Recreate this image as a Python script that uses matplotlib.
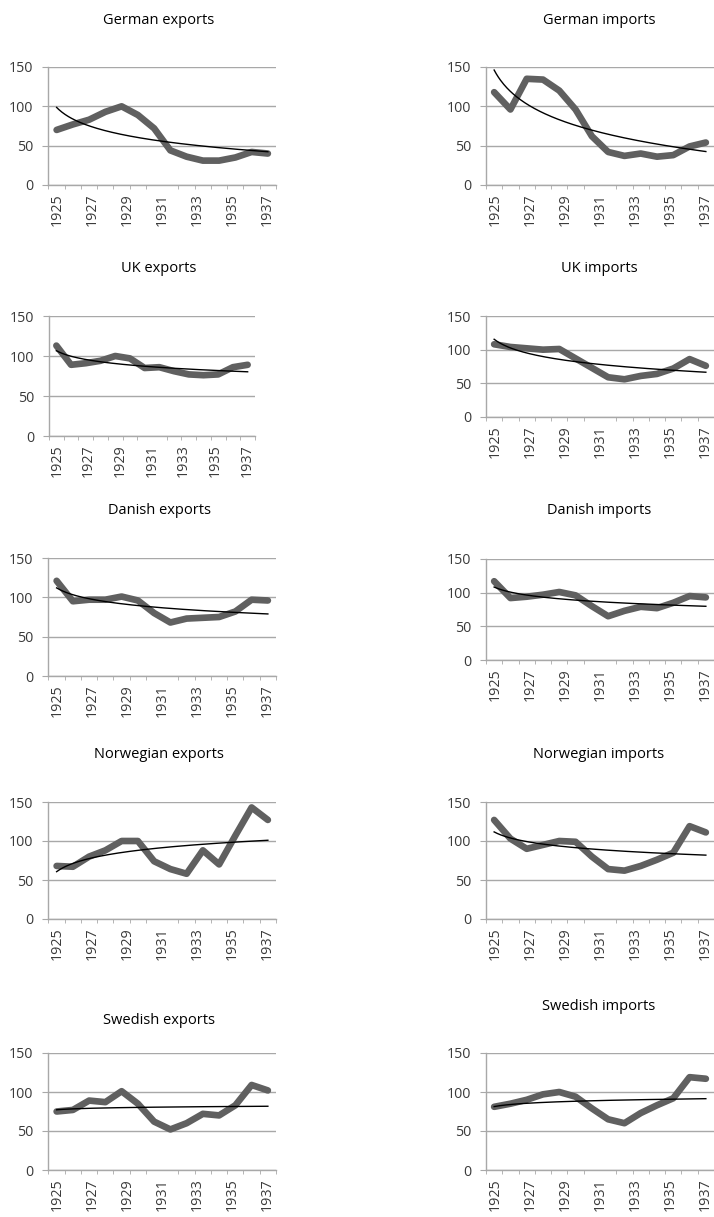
import numpy as np
import matplotlib.pyplot as plt

years = list(range(1925, 1939))
label_years = ['1925', '1927', '1929', '1931', '1933', '1935', '1937']

german_exports = [70, 77, 83, 93, 100, 89, 72, 44, 36, 31, 31, 35, 42, 40]
german_imports = [118, 96, 135, 134, 120, 96, 62, 42, 37, 40, 36, 38, 49, 54]
uk_exports = [113, 89, 91, 94, 100, 97, 85, 86, 81, 77, 76, 77, 86, 89]
uk_imports = [108, 104, 102, 100, 101, 87, 73, 59, 56, 61, 64, 72, 86, 76]
danish_exports = [121, 95, 97, 97, 101, 96, 80, 68, 73, 74, 75, 82, 97, 96]
danish_imports = [117, 92, 94, 97, 101, 96, 80, 65, 73, 79, 77, 85, 95, 93]
norwegian_exports = [68, 67, 80, 88, 100, 100, 74, 64, 58, 88, 70, 107, 143, 127]
norwegian_imports = [127, 103, 90, 95, 100, 99, 80, 64, 62, 68, 76, 85, 119, 111]
swedish_exports = [75, 77, 89, 87, 101, 85, 62, 52, 60, 72, 70, 83, 109, 102]
swedish_imports = [81, 85, 90, 97, 100, 94, 79, 65, 60, 73, 83, 92, 119, 117]

W, H = 714, 1217
plt.rcParams['font.family'] = ['Open Sans', 'DejaVu Sans']
fig = plt.figure(figsize=(W / 100, H / 100), dpi=100)

grid_c = '#a8a8a8'


def panel(x0, x1, ytop, ybot, title, tx, ty, values):
    ax = fig.add_axes([x0 / W, 1 - ybot / H, (x1 - x0) / W, (ybot - ytop) / H])
    n = len(values)
    x = np.arange(n)
    ax.plot(x, values, color='#606060', lw=4.8, solid_joinstyle='round',
            solid_capstyle='round', zorder=3, clip_on=False)
    # excel style log trendline
    a, b = np.polyfit(np.log(x + 1), values, 1)
    xs = np.linspace(0, n - 1, 200)
    ax.plot(xs, a * np.log(xs + 1) + b, color='black', lw=1, zorder=4, clip_on=False)
    ax.set_xlim(-0.5, n - 0.5)
    ax.set_ylim(0, 150)
    ax.set_yticks([0, 50, 100, 150])
    ax.yaxis.grid(True, color=grid_c, lw=1)
    ax.set_axisbelow(True)
    for s in ['top', 'right']:
        ax.spines[s].set_visible(False)
    for s in ['left', 'bottom']:
        ax.spines[s].set_color(grid_c)
        ax.spines[s].set_linewidth(1)
    pos = -0.5 + (np.arange(0, n - 1, 2) + 0.5) * n / (n - 1)
    ax.set_xticks(pos)
    ax.set_xticklabels(label_years, rotation=90)
    ax.set_xticks(np.arange(-0.5, n), minor=True)
    ax.tick_params(axis='x', which='major', length=0, pad=6, labelsize=10.3, labelcolor='#3a3a3a')
    ax.tick_params(axis='x', which='minor', length=3, color=grid_c)
    ax.tick_params(axis='y', length=4.3, color=grid_c, pad=6.5, labelsize=10.3, labelcolor='#3a3a3a')
    fig.text(tx / W, 1 - ty / H, title, ha='center', va='center', fontsize=10.5, color='black')
    return ax


panel(48.5, 276, 67, 185, 'German exports', 159, 21, german_exports)
panel(486, 714, 67, 185, 'German imports', 599, 21, german_imports)
panel(49, 255, 316, 436, 'UK exports', 159, 269, uk_exports)
panel(486, 714, 316, 417, 'UK imports', 599, 269, uk_imports)
panel(48.5, 276, 558, 676, 'Danish exports', 159, 511, danish_exports)
panel(486, 714, 559, 660, 'Danish imports', 599, 511, danish_imports)
panel(48.5, 276, 802, 919, 'Norwegian exports', 159, 754, norwegian_exports)
panel(486, 714, 802, 919, 'Norwegian imports', 599, 754, norwegian_imports)
panel(48.5, 276, 1053, 1170, 'Swedish exports', 159, 1021, swedish_exports)
panel(486, 714, 1053, 1170, 'Swedish imports', 599, 1006, swedish_imports)

fig.savefig('out.png', dpi=100)
